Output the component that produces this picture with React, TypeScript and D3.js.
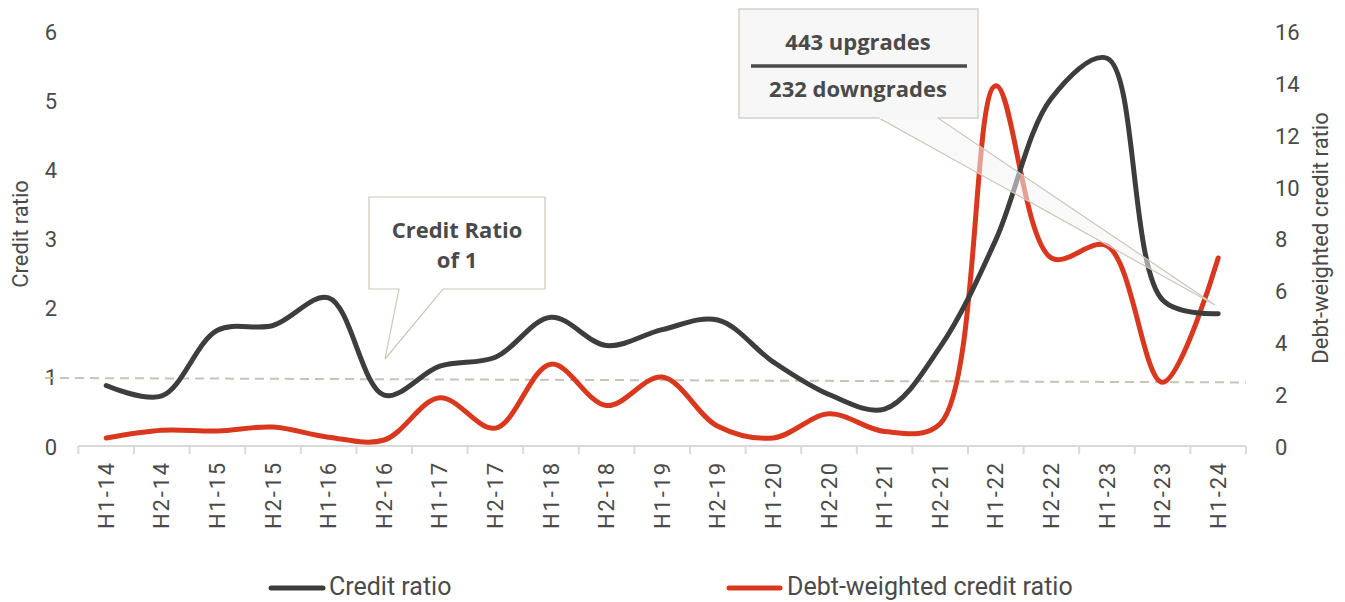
import React from "react";
import * as d3 from "d3";

const categories = [
  "H1-14", "H2-14", "H1-15", "H2-15", "H1-16", "H2-16", "H1-17", "H2-17",
  "H1-18", "H2-18", "H1-19", "H2-19", "H1-20", "H2-20", "H1-21", "H2-21",
  "H1-22", "H2-22", "H1-23", "H2-23", "H1-24",
];
const creditRatio = [
  0.89, 0.74, 1.69, 1.76, 2.16, 0.75, 1.17, 1.3, 1.88, 1.47, 1.7, 1.84,
  1.23, 0.76, 0.55, 1.45, 3.0, 5.05, 5.63, 2.13, 1.93,
];
const debtWeighted = [
  0.35, 0.65, 0.62, 0.77, 0.38, 0.27, 1.9, 0.73, 3.2, 1.6, 2.7, 0.8,
  0.35, 1.28, 0.6, 0.9, 13.95, 7.3, 7.77, 2.5, 7.3,
];
const leftTicks = [0, 1, 2, 3, 4, 5, 6];
const rightTicks = [0, 2, 4, 6, 8, 10, 12, 14, 16];
const referenceLine = [1.0, 0.935];
const seriesNames = ["Credit ratio", "Debt-weighted credit ratio"];

const BLACK = "#3d3d3d";
const RED = "#d9381e";
const TEXT = "#4a4a4a";
const BORDER = "#cdc6bb";
const FONT = "Roboto, 'Liberation Sans', sans-serif";
const BOLD_FONT = "'Open Sans', Roboto, sans-serif";

export default function App() {
  const x = d3.scaleBand<string>().domain(categories).range([78.4, 1246]);
  const yL = d3.scaleLinear().domain([0, 6]).range([447, 32.7]);
  const yR = d3.scaleLinear().domain([0, 16]).range([447, 32.7]);
  const cx = (c: string) => (x(c) as number) + x.bandwidth() / 2;

  const lineL = d3
    .line<number>()
    .x((_, i) => cx(categories[i]))
    .y((d) => yL(d))
    .curve(d3.curveCatmullRom.alpha(0.5));
  const lineR = d3
    .line<number>()
    .x((_, i) => cx(categories[i]))
    .y((d) => yR(d))
    .curve(d3.curveCatmullRom.alpha(0.5));

  const x0 = x.range()[0];
  const x1 = x.range()[1];

  return (
    <svg
      width={1345}
      height={602}
      style={{ position: "absolute", left: 0, top: 0, background: "#fff" }}
      fontFamily={FONT}
    >
      {leftTicks.map((t) => (
        <text
          key={"l" + t}
          x={57}
          y={yL(t)}
          textAnchor="end"
          dominantBaseline="central"
          fontSize={22}
          fill={TEXT}
        >
          {t}
        </text>
      ))}
      <text
        transform={`translate(20,234) rotate(-90)`}
        textAnchor="middle"
        dominantBaseline="central"
        fontSize={22}
        fill={TEXT}
      >
        Credit ratio
      </text>
      {rightTicks.map((t) => (
        <text
          key={"r" + t}
          x={1275}
          y={yR(t)}
          textAnchor="start"
          dominantBaseline="central"
          fontSize={22}
          fill={TEXT}
        >
          {t}
        </text>
      ))}
      <text
        transform={`translate(1320,238) rotate(-90)`}
        textAnchor="middle"
        dominantBaseline="central"
        fontSize={22}
        fill={TEXT}
      >
        Debt-weighted credit ratio
      </text>

      <line x1={x0} x2={x1} y1={446} y2={446} stroke="#d9d9d9" strokeWidth={2} />
      {categories.map((c) => (
        <line
          key={"t" + c}
          x1={x(c) as number}
          x2={x(c) as number}
          y1={446}
          y2={454}
          stroke="#d9d9d9"
          strokeWidth={2}
        />
      ))}
      <line x1={x1} x2={x1} y1={446} y2={454} stroke="#d9d9d9" strokeWidth={2} />
      {categories.map((c) => (
        <text
          key={"x" + c}
          transform={`translate(${cx(c)},461) rotate(-90)`}
          textAnchor="end"
          dominantBaseline="central"
          fontSize={22}
          letterSpacing={1.8}
          fill={TEXT}
        >
          {c}
        </text>
      ))}

      <line
        x1={45}
        x2={x1}
        y1={yL(referenceLine[0])}
        y2={yL(referenceLine[1])}
        stroke="#c9c2b6"
        strokeWidth={2}
        strokeDasharray="9,6"
      />

      <path
        d={lineR(debtWeighted) || ""}
        fill="none"
        stroke={RED}
        strokeWidth={5}
        strokeLinecap="round"
        strokeLinejoin="round"
      />
      <path
        d={lineL(creditRatio) || ""}
        fill="none"
        stroke={BLACK}
        strokeWidth={5}
        strokeLinecap="round"
        strokeLinejoin="round"
      />

      <path
        d="M369,197 L545,197 L545,289 L443,289 L385,359 L399,289 L369,289 Z"
        fill="#fff"
        stroke={BORDER}
        strokeWidth={1.2}
      />
      <g fontFamily={BOLD_FONT} fontSize={22} fontWeight="bold" fill={TEXT} textAnchor="middle">
        <text x={457} y={238}>Credit Ratio</text>
        <text x={457} y={268}>of 1</text>
      </g>

      <path
        d="M879,118 L938,118 L1215,305 Z"
        fill="#f4f4f4"
        fillOpacity={0.55}
        stroke={BORDER}
        strokeWidth={1.2}
      />
      <rect x={739} y={9} width={239} height={109} fill="#f7f7f7" stroke={BORDER} strokeWidth={1.2} />
      <line x1={879.5} x2={937.5} y1={118} y2={118} stroke="#f7f7f7" strokeWidth={2} />
      <g fontFamily={BOLD_FONT} fontSize={22} fontWeight="bold" fill={TEXT} textAnchor="middle">
        <text x={858} y={50}>443 upgrades</text>
        <text x={858} y={97}>232 downgrades</text>
      </g>
      <line x1={751} x2={967} y1={66} y2={66} stroke={TEXT} strokeWidth={3.5} />

      <line x1={271} x2={323} y1={588} y2={588} stroke={BLACK} strokeWidth={5} strokeLinecap="round" />
      <text x={329} y={595} fontSize={25} fill={TEXT}>
        {seriesNames[0]}
      </text>
      <line x1={729} x2={780} y1={588} y2={588} stroke={RED} strokeWidth={5} strokeLinecap="round" />
      <text x={787} y={595} fontSize={25} fill={TEXT}>
        {seriesNames[1]}
      </text>
    </svg>
  );
}
